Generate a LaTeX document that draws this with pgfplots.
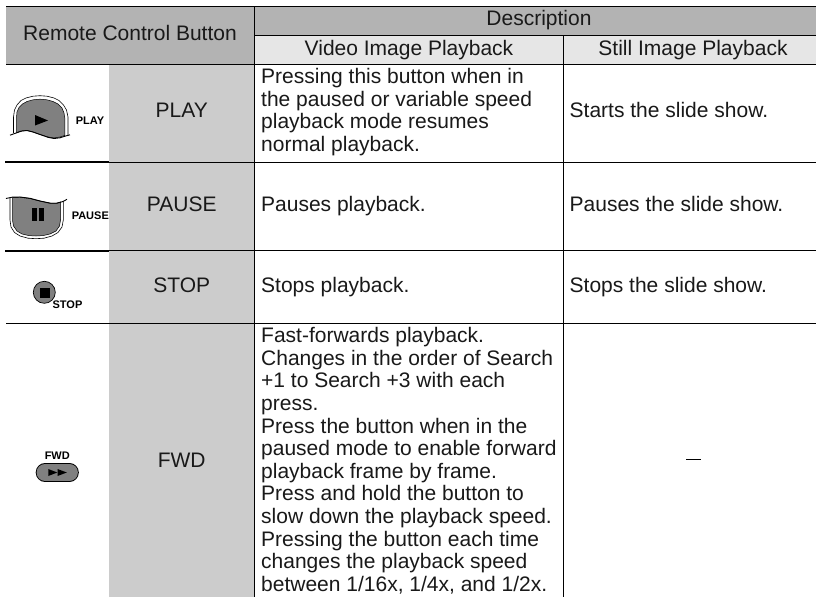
\documentclass[border=0pt]{standalone}
\usepackage{pgfplots}
\pgfplotsset{compat=1.18}
\usepackage{fontspec}
\setmainfont{Liberation Sans}
\definecolor{hdark}{HTML}{B3B3B3}
\definecolor{hlight}{HTML}{E6E6E6}
\definecolor{hcol}{HTML}{CCCCCC}
\definecolor{btn}{HTML}{808080}
\newcommand{\bodyt}[3]{\node[anchor=base west,inner sep=0pt,font=\fontsize{21}{22}\selectfont,text=black!90] at (axis cs:#1,#2) {#3};}
\newcommand{\ctr}[3]{\node[anchor=base,inner sep=0pt,font=\fontsize{21}{22}\selectfont,text=black!90] at (axis cs:#1,#2) {#3};}
\newcommand{\icont}[3]{\node[anchor=base,inner sep=0pt,font=\fontsize{11}{12}\selectfont\bfseries,text=black] at (axis cs:#1,#2) {#3};}
\newcommand{\lin}[5][1.1pt]{\addplot[black,line width=#1,forget plot] coordinates {(#2,#3) (#4,#5)};}
\begin{document}
\begin{tikzpicture}
\begin{axis}[
  width=816pt,height=597pt,scale only axis,
  xmin=0,xmax=816,ymin=0,ymax=597,y dir=reverse,
  axis lines=none,ticks=none,clip=true]
% page background keeps the frame at its full size
\addplot[fill=white,draw=white,line width=0pt] coordinates {(0,0) (816,0) (816,597) (0,597)} -- cycle;
% header and column fills
\addplot[fill=hdark,draw=none] coordinates {(6,6) (816,6) (816,35) (254,35) (254,64) (6,64)} -- cycle;
\addplot[fill=hlight,draw=none] coordinates {(254,35) (816,35) (816,64) (254,64)} -- cycle;
\addplot[fill=hcol,draw=none] coordinates {(109,64) (254,64) (254,597) (109,597)} -- cycle;
% rules
\lin{6}{6.3}{816}{6.3}
\lin{254}{35.2}{816}{35.2}
\lin{6}{64.2}{816}{64.2}
\lin[1.5pt]{5}{161.8}{109}{161.8}
\lin{109}{162.2}{816}{162.2}
\lin[1.7pt]{5}{250.8}{109}{250.8}
\lin{109}{250.5}{816}{250.5}
\lin{6}{323.3}{816}{323.3}
\lin{254.4}{6}{254.4}{597}
\lin{563.4}{35}{563.4}{597}
\lin{686.3}{459.5}{700.5}{459.5}
% PLAY icon
\addplot[fill=btn,draw=black,line width=0.5pt] coordinates {(16.5,133) (16.5,118) (17,112) (19,107.5) (22.5,104) (27,101.5) (33,99.8) (40,99.2) (47,99.8) (53,101.5) (58,104) (62,108) (64,113) (64.8,118) (64.8,135.5) (60,137) (54,138) (48,137) (40,134.5) (33,132) (27,130.5) (20,131.2)} -- cycle;
\addplot[black,line width=0.6pt] coordinates {(13.5,133) (13.5,117) (14.5,110) (17,105) (21,100.5) (26,98) (33,96.2) (40,95.7) (47,96.2) (54,98) (59,100.5) (63.5,105) (66.5,110) (68,117) (68,135.5)};
\addplot[black,line width=0.9pt] coordinates {(10,135.2) (16,133) (22,131) (27,130.5) (33,132) (40,134.5) (48,137.3) (54,138.5) (60,137.8) (65,136.2) (70,134.8)};
\addplot[fill=black,draw=none] coordinates {(35,115) (48,120.5) (35,125.5)} -- cycle;
\icont{90}{124}{PLAY}
% PAUSE icon
\addplot[fill=btn,draw=black,line width=0.5pt] coordinates {(12.5,197.5) (20,197.2) (30,198.5) (40,201) (50,203) (57,203) (60.5,202) (60.5,220) (59.5,226) (56,231) (50,234) (43,235.6) (36,236) (29,235.6) (22,234) (17,231) (13.5,226) (12.5,220)} -- cycle;
\addplot[black,line width=0.6pt] coordinates {(10,198) (10,220) (11,227) (14.5,232.5) (20,236) (28,238.2) (36,238.7) (44,238.2) (52,236) (58,232.5) (62,227) (63.3,220) (63.3,201)};
\addplot[black,line width=0.9pt] coordinates {(6,198.5) (12,197.2) (20,197) (30,198.3) (40,201) (50,203.2) (57,203.2) (63,201.5) (67,199.3)};
\addplot[fill=black,draw=none] coordinates {(32.3,208) (36.8,208) (36.8,220.7) (32.3,220.7)} -- cycle;
\addplot[fill=black,draw=none] coordinates {(39.3,208) (44,208) (44,220.7) (39.3,220.7)} -- cycle;
\icont{90.3}{219}{PAUSE}
% STOP icon
\addplot[only marks,mark=*,mark size=11pt,mark options={fill=btn,draw=black,line width=0.7pt}] coordinates {(44.3,292.3)};
\addplot[only marks,mark=square*,mark size=4.6pt,mark options={fill=black,draw=none}] coordinates {(44.6,292.5)};
\icont{67.5}{308.3}{STOP}
% FWD icon
\addplot[black,line width=18.6pt,line cap=round] coordinates {(45,472.5) (69.5,472.5)};
\addplot[btn,line width=16.8pt,line cap=round] coordinates {(45,472.5) (69.5,472.5)};
\addplot[fill=black,draw=none] coordinates {(48.3,469) (57.3,472.5) (48.3,476)} -- cycle;
\addplot[fill=black,draw=none] coordinates {(57.5,469) (66.8,472.5) (57.5,476)} -- cycle;
\icont{57.3}{459.3}{FWD}
% headers
\ctr{130}{40}{Remote Control Button}
\ctr{539}{25}{Description}
\ctr{409}{55}{Video Image Playback}
\ctr{693}{55}{Still Image Playback}
% column names
\ctr{181.7}{117}{PLAY}
\ctr{181.7}{211}{PAUSE}
\ctr{181.7}{292}{STOP}
\ctr{181.7}{467}{FWD}
% video column
\bodyt{261}{83.5}{Pressing this button when in}
\bodyt{261}{106}{the paused or variable speed}
\bodyt{261}{128.5}{playback mode resumes}
\bodyt{261}{151}{normal playback.}
\bodyt{261}{211}{Pauses playback.}
\bodyt{261}{292}{Stops playback.}
\bodyt{261}{342.7}{Fast-forwards playback.}
\bodyt{261}{365.3}{Changes in the order of Search}
\bodyt{261}{387.9}{+1 to Search +3 with each}
\bodyt{261}{410.5}{press.}
\bodyt{261}{433.1}{Press the button when in the}
\bodyt{261}{455.7}{paused mode to enable forward}
\bodyt{261}{478.3}{playback frame by frame.}
\bodyt{261}{500.9}{Press and hold the button to}
\bodyt{261}{523.5}{slow down the playback speed.}
\bodyt{261}{546.1}{Pressing the button each time}
\bodyt{261}{568.7}{changes the playback speed}
\bodyt{261}{591.3}{between 1/16x, 1/4x, and 1/2x.}
% still column
\bodyt{569.5}{117}{Starts the slide show.}
\bodyt{569.5}{211}{Pauses the slide show.}
\bodyt{569.5}{292}{Stops the slide show.}
\end{axis}
\end{tikzpicture}
\end{document}
